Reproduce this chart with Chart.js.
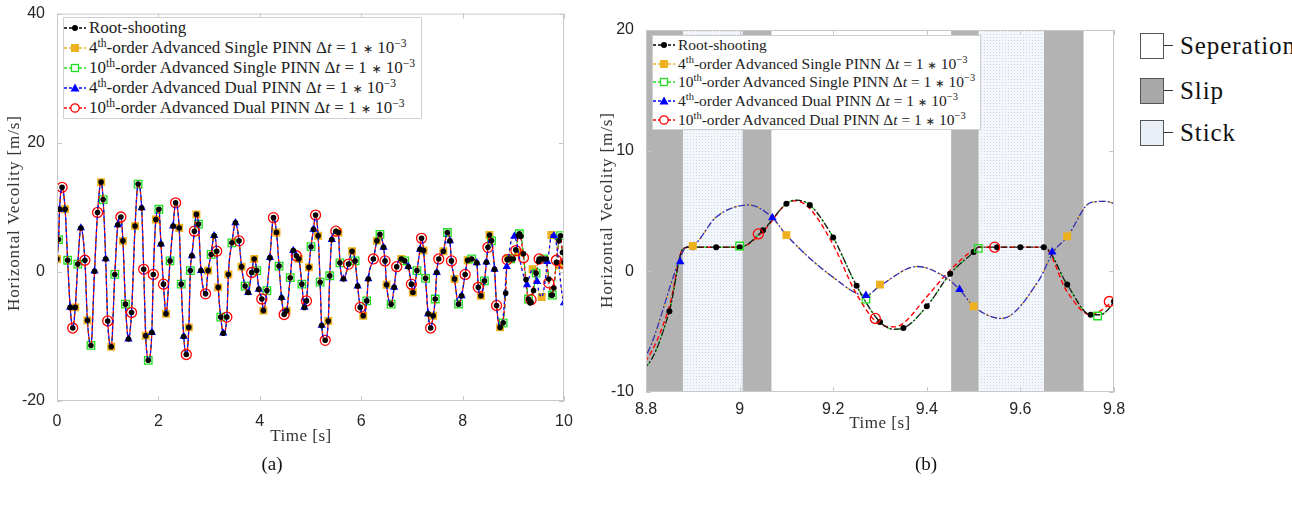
<!DOCTYPE html>
<html>
<head>
<meta charset="utf-8">
<script src="https://cdn.jsdelivr.net/npm/chart.js@4.4.1/dist/chart.umd.min.js"></script>
<style>
  body { margin: 0; width: 1292px; height: 505px; overflow: hidden; position: relative; background: #fff; font-family: "Liberation Serif", serif; color: #222; }
  .wrap { position: absolute; }
  .ytitle { position: absolute; white-space: nowrap; font-size: 17px; letter-spacing: 0.9px; transform: translate(-50%, -50%) rotate(-90deg); color: #333; }
  .xtitle { position: absolute; white-space: nowrap; font-size: 17px; letter-spacing: 0.5px; transform: translate(-50%, -50%); color: #333; }
  .cap { position: absolute; font-size: 19px; transform: translate(-50%, -50%); color: #111; }
  .lg { position: absolute; background: #fff; border: 1px solid #cfcfcf; box-sizing: border-box; }
  .row { display: flex; align-items: center; white-space: nowrap; color: #222; }
  .row svg { flex: none; }
  .row sup { font-size: 0.68em; line-height: 0; vertical-align: 0.55em; }
  .ast { font-family: "DejaVu Sans", sans-serif; font-size: 0.72em; }
  .cat { position: absolute; left: 1140px; width: 24px; height: 26px; box-sizing: border-box; border: 1.5px solid #555; }
  .tie { position: absolute; left: 1164px; width: 9px; height: 0; border-top: 1.5px solid #333; }
  .catl { position: absolute; left: 1180px; font-size: 25px; letter-spacing: 0.9px; white-space: nowrap; transform: translateY(-50%); color: #111; }
</style>
</head>
<body>
<div class="wrap" style="left:0;top:0;width:580px;height:430px"><canvas id="left"></canvas></div>
<div class="wrap" style="left:590px;top:0;width:540px;height:420px"><canvas id="right"></canvas></div>

<div class="ytitle" style="left:14px;top:213px">Horizontal Vecolity [m/s]</div>
<div class="xtitle" style="left:301px;top:436px">Time [s]</div>
<div class="ytitle" style="left:607px;top:210px">Horizontal Vecolity [m/s]</div>
<div class="xtitle" style="left:880px;top:423px">Time [s]</div>
<div class="cap" style="left:272px;top:464px">(a)</div>
<div class="cap" style="left:926px;top:464px">(b)</div>

<div class="lg" id="legLeft" style="left:63px;top:17px;width:359px;height:102px;font-size:17px"></div>
<div class="lg" id="legRight" style="left:652px;top:35px;width:329px;height:95px;font-size:15.5px"></div>

<div class="cat" style="top:33px;background:#fff"></div>
<div class="tie" style="top:45px"></div>
<div class="catl" style="top:46px">Seperation</div>
<div class="cat" style="top:78px;background:#a9a9a9"></div>
<div class="tie" style="top:90px"></div>
<div class="catl" style="top:91px">Slip</div>
<div class="cat" style="top:120px;background:#eaeff7"></div>
<div class="tie" style="top:132px"></div>
<div class="catl" style="top:133px">Stick</div>

<script>
'use strict';

// ---- data ----
// root-shooting horizontal velocity, t in s, v in m/s
const leftTime = [0, 0.03, 0.05, 0.1, 0.16, 0.21, 0.26, 0.31, 0.36, 0.41,
  0.47, 0.55, 0.6, 0.67, 0.74, 0.8, 0.87, 0.91, 0.96, 1.0,
  1.07, 1.14, 1.2, 1.26, 1.3, 1.35, 1.41, 1.47, 1.54, 1.6,
  1.67, 1.71, 1.75, 1.8, 1.87, 1.9, 1.95, 2.01, 2.05, 2.1,
  2.15, 2.23, 2.29, 2.34, 2.41, 2.45, 2.5, 2.55, 2.6, 2.63,
  2.66, 2.71, 2.75, 2.79, 2.84, 2.93, 2.98, 3.04, 3.1, 3.15,
  3.18, 3.23, 3.28, 3.35, 3.38, 3.45, 3.52, 3.59, 3.64, 3.71,
  3.77, 3.84, 3.89, 3.94, 3.98, 4.04, 4.07, 4.14, 4.2, 4.27,
  4.33, 4.38, 4.43, 4.48, 4.53, 4.6, 4.66, 4.72, 4.77, 4.83,
  4.88, 4.92, 4.97, 5.01, 5.06, 5.1, 5.15, 5.19, 5.22, 5.29,
  5.35, 5.38, 5.42, 5.5, 5.55, 5.58, 5.65, 5.75, 5.82, 5.88,
  5.93, 5.98, 6.04, 6.11, 6.14, 6.24, 6.31, 6.37, 6.44, 6.47,
  6.5, 6.59, 6.65, 6.7, 6.79, 6.86, 6.93, 6.99, 7.02, 7.1,
  7.16, 7.19, 7.23, 7.27, 7.32, 7.37, 7.42, 7.46, 7.49, 7.53,
  7.62, 7.7, 7.75, 7.78, 7.84, 7.92, 7.98, 8.05, 8.1, 8.18,
  8.28, 8.31, 8.36, 8.43, 8.47, 8.5, 8.53, 8.57, 8.63, 8.67,
  8.74, 8.8, 8.85, 8.88, 8.9, 8.95, 9.0, 9.05, 9.1, 9.12,
  9.15, 9.2, 9.25, 9.3, 9.33, 9.35, 9.4, 9.45, 9.5, 9.51,
  9.55, 9.6, 9.65, 9.7, 9.75, 9.77, 9.8, 9.85, 9.9, 9.93,
  9.97, 10];
const leftRoot = [2.0, 5.0, 9.7, 13.1, 9.7, 1.8, -5.5, -8.7, -5.5, 1.2,
  6.8, 1.8, -7.5, -11.4, 0.1, 9.2, 13.9, 11.2, 2.0, -7.6,
  -11.6, -0.4, 7.3, 8.5, 4.8, -5.0, -10.4, -6.3, 7.1, 13.6,
  9.9, 0.4, -9.9, -13.7, -9.4, -0.4, 8.1, 9.7, 4.3, -1.9,
  -6.5, 1.7, 7.1, 10.7, 6.8, -1.9, -10.0, -12.8, -8.6, 0.2,
  2.5, 6.3, 8.9, 7.4, 0.2, -3.4, 0.2, 2.7, 5.6, 3.2,
  -2.4, -7.0, -9.5, -7.0, -0.4, 4.5, 7.6, 4.8, 0.8, -2.2,
  -3.2, -0.1, 2.0, 0.2, -2.7, -4.2, -6.0, -2.9, 2.2, 8.4,
  6.1, 0.9, -4.0, -6.6, -6.0, -0.9, 3.3, 2.5, 2.0, -1.9,
  -5.5, -4.5, 0.7, 3.9, 6.6, 8.8, 5.6, -1.6, -8.3, -10.6,
  -7.6, -0.6, 5.0, 6.3, 6.1, 1.4, -1.1, 1.2, 3.2, 1.7,
  -2.2, -5.5, -6.8, -4.5, -1.1, 2.0, 4.8, 5.8, 3.8, 1.7,
  -2.0, -5.0, -2.4, 0.8, 2.0, 1.7, 0.8, -1.9, -3.2, 0.2,
  3.5, 5.2, 3.3, -1.0, -6.5, -8.7, -6.8, -4.2, -0.1, 2.0,
  3.2, 6.1, 4.8, 1.7, -1.1, -5.0, -3.7, -0.4, 1.8, 2.0,
  1.4, -2.4, -3.7, -1.4, 1.5, 3.8, 5.7, 4.8, 0.4, -5.2,
  -8.6, -7.9, -3.3, 1.9, 2.0, 2.0, 2.0, 3.4, 5.6, 5.9,
  5.5, 2.8, -1.2, -4.2, -4.8, -4.7, -2.9, -0.2, 1.6, 2.0,
  2.0, 2.0, 2.0, -1.1, -3.6, -3.6, -2.5, 1.5, 4.8, 5.6,
  3.0, 1.5];

// 4th-order PINNs (single and dual) leave the root-shooting curve after 8.8 s
const tail4Time = [8.8, 8.87, 8.885, 8.9, 8.95, 9.02, 9.07, 9.1, 9.2, 9.27,
  9.3, 9.38, 9.44, 9.47, 9.5, 9.56, 9.64, 9.67, 9.7, 9.75,
  9.78, 9.8, 9.85, 9.9, 9.95, 10];
const tail4Vel = [-7.0, 0.8, 2.0, 2.15, 4.5, 5.5, 4.45, 3.0, -0.5, -2.0,
  -1.2, 0.4, -0.5, -1.5, -2.9, -3.9, -0.7, 1.6, 2.85, 5.7,
  5.8, 5.6, 4.3, 1.0, -2.8, -4.8];

// 10th-order dual PINN after 8.8 s (slightly ahead of root-shooting)
const tailDual10Time = [8.8, 8.85, 8.88, 8.9, 8.95, 9.0, 9.05, 9.1, 9.12, 9.15,
  9.2, 9.25, 9.3, 9.33, 9.35, 9.4, 9.45, 9.5, 9.51, 9.55,
  9.6, 9.65, 9.7, 9.75, 9.77, 9.8, 9.85, 9.9, 9.93, 9.97, 10];
const tailDual10Vel = [-7.4, -2.9, 1.9, 2.0, 2.0, 2.0, 3.3, 5.6, 5.85, 5.2,
  2.2, -1.9, -4.4, -4.6, -4.3, -2.1, 0.1, 1.8, 2.0, 2.0,
  2.0, 2.0, -1.7, -3.6, -3.3, -2.2, 1.8, 4.9, 5.5, 2.8, 1.3];

// markers of the zoomed panel (b)
const single4MarkTime = [8.9, 9.1, 9.3, 9.5, 9.7];
const single4MarkVel = [2.1, 3.0, -1.1, -2.9, 2.9];
const single10MarkTime = [9.0, 9.27, 9.51, 9.765];
const single10MarkVel = [2.1, -2.3, 1.9, -3.7];
const dual4MarkTime = [8.873, 9.07, 9.27, 9.47, 9.668];
const dual4MarkVel = [0.8, 4.45, -2.0, -1.5, 1.6];
const dual10MarkTime = [9.04, 9.29, 9.545, 9.79];
const dual10MarkVel = [3.1, -3.9, 2.0, -2.5];

// contact phases in panel (b)
const slipStart = [8.8, 9.006, 9.452, 9.65];
const slipEnd = [8.879, 9.068, 9.511, 9.735];
const stickStart = [8.879, 9.511];
const stickEnd = [9.006, 9.65];

const leftXTicks = [0, 2, 4, 6, 8, 10];
const leftYTicks = [-20, 0, 20, 40];
const rightXTicks = [8.8, 9, 9.2, 9.4, 9.6, 9.8];
const rightYTicks = [-10, 0, 10, 20];

// ---- styles ----
const BLACK = '#000000';
const ORANGE = '#EDB120';
const GREEN = '#22dd22';
const BLUE = '#0000ff';
const RED = '#ff0000';

const mk = (ts, vs) => ts.map((t, i) => ({ x: t, y: vs[i] }));
const rootPts = mk(leftTime, leftRoot);
const early = rootPts.filter(p => p.x < 8.8);
const fourthPts = early.concat(mk(tail4Time, tail4Vel));
const dual10Pts = early.concat(mk(tailDual10Time, tailDual10Vel));

// legends (html, so superscripts and italics stay real text)
function sample(color, dash, marker) {
  let m = '';
  if (marker === 'dot') m = `<circle cx="11" cy="7" r="3" fill="${color}"/>`;
  if (marker === 'sq') m = `<rect x="7" y="3" width="8" height="8" fill="${color}"/>`;
  if (marker === 'osq') m = `<rect x="7.5" y="3.5" width="7" height="7" fill="#fff" stroke="${color}" stroke-width="1.3"/>`;
  if (marker === 'tri') m = `<polygon points="11,2.5 15.5,10.5 6.5,10.5" fill="${color}"/>`;
  if (marker === 'oc') m = `<circle cx="11" cy="7" r="4.2" fill="#fff" stroke="${color}" stroke-width="1.3"/>`;
  return `<svg width="22" height="14"><line x1="0" y1="7" x2="22" y2="7" stroke="${color}" stroke-width="1.3" stroke-dasharray="${dash}"/>${m}</svg>`;
}
const dt = 'Δ<i>t</i> = 1 <span class="ast">∗</span> 10<sup>−3</sup>';
const legendRows = [
  [BLACK, '3,2', 'dot', 'Root-shooting'],
  [ORANGE, '3,2', 'sq', `4<sup>th</sup>-order Advanced Single PINN ${dt}`],
  [GREEN, '3,2', 'osq', `10<sup>th</sup>-order Advanced Single PINN ${dt}`],
  [BLUE, '3,2', 'tri', `4<sup>th</sup>-order Advanced Dual PINN ${dt}`],
  [RED, '3,2', 'oc', `10<sup>th</sup>-order Advanced Dual PINN ${dt}`]
];
function fillLegend(id, rowH) {
  document.getElementById(id).innerHTML = legendRows.map(r =>
    `<div class="row" style="height:${rowH}px">${sample(r[0], r[1], r[2])}<span style="margin-left:3px">${r[3]}</span></div>`
  ).join('');
}
fillLegend('legLeft', 20);
fillLegend('legRight', 18.6);

// ---- plugins ----
const stickPattern = (() => {
  const c = document.createElement('canvas');
  c.width = 3; c.height = 3;
  const g = c.getContext('2d');
  g.fillStyle = '#f3f6fb';
  g.fillRect(0, 0, 3, 3);
  g.fillStyle = '#cdd6e6';
  g.fillRect(1, 1, 1, 1);
  return g.createPattern(c, 'repeat');
})();

const phases = {
  id: 'phases',
  beforeDatasetsDraw(chart) {
    if (chart.canvas.id !== 'right') return;
    const { ctx, chartArea: a, scales: { x } } = chart;
    ctx.save();
    ctx.fillStyle = '#b3b3b3';
    slipStart.forEach((s, i) => {
      const x0 = x.getPixelForValue(s), x1 = x.getPixelForValue(slipEnd[i]);
      ctx.fillRect(x0, a.top, x1 - x0, a.bottom - a.top);
    });
    ctx.fillStyle = stickPattern;
    stickStart.forEach((s, i) => {
      const x0 = x.getPixelForValue(s), x1 = x.getPixelForValue(stickEnd[i]);
      ctx.fillRect(x0, a.top, x1 - x0, a.bottom - a.top);
    });
    ctx.restore();
  }
};

const frame = {
  id: 'frame',
  afterDatasetsDraw(chart) {
    const { ctx, chartArea: a, scales: { x, y } } = chart;
    ctx.save();
    ctx.strokeStyle = '#c8c8c8';
    ctx.lineWidth = 1;
    ctx.strokeRect(a.left + 0.5, a.top + 0.5, a.right - a.left - 1, a.bottom - a.top - 1);
    ctx.beginPath();
    x.ticks.forEach(t => {
      const p = Math.round(x.getPixelForValue(t.value)) + 0.5;
      ctx.moveTo(p, a.bottom); ctx.lineTo(p, a.bottom - 5);
      ctx.moveTo(p, a.top); ctx.lineTo(p, a.top + 5);
    });
    y.ticks.forEach(t => {
      const p = Math.round(y.getPixelForValue(t.value)) + 0.5;
      ctx.moveTo(a.left, p); ctx.lineTo(a.left + 5, p);
      ctx.moveTo(a.right, p); ctx.lineTo(a.right - 5, p);
    });
    ctx.stroke();
    ctx.restore();
  }
};

const tickFont = { family: '"Liberation Sans", Arial, sans-serif', size: 16 };

function axes(xr, yr, xTicks, yTicks, yWidth, xHeight, xPad) {
  return {
    x: {
      type: 'linear', min: xr[0], max: xr[1],
      afterBuildTicks: s => { s.ticks = xTicks.map(v => ({ value: v })); },
      afterFit: s => { s.height = xHeight; },
      grid: { display: false }, border: { display: false },
      ticks: { font: tickFont, color: '#262626', padding: xPad, maxRotation: 0, callback: v => String(+v.toFixed(2)) }
    },
    y: {
      type: 'linear', min: yr[0], max: yr[1],
      afterBuildTicks: s => { s.ticks = yTicks.map(v => ({ value: v })); },
      afterFit: s => { s.width = yWidth; },
      grid: { display: false }, border: { display: false },
      ticks: { font: tickFont, color: '#262626', padding: 4 }
    }
  };
}

function line(data, color, dash, width, extra) {
  return Object.assign({
    data: data, borderColor: color, borderWidth: width, borderDash: dash,
    cubicInterpolationMode: 'monotone', pointRadius: 0, fill: false
  }, extra || {});
}
function marks(ts, vs, style, color, r, filled) {
  return {
    data: mk(ts, vs), showLine: false, pointStyle: style, pointRadius: r,
    pointBackgroundColor: filled ? color : 'rgba(0,0,0,0)',
    pointBorderColor: color, pointBorderWidth: filled ? 0 : 1.3
  };
}

// ---- (a) full record ----
const every = (k, r) => c => (c.dataIndex % 4 === k ? r : 0);
new Chart(document.getElementById('left'), {
  type: 'line',
  data: {
    datasets: [
      // black dots on top, black line at the bottom
      { data: rootPts, showLine: false, pointRadius: 2.8, pointBackgroundColor: BLACK, pointBorderWidth: 0 },
      line(fourthPts, BLUE, [3, 3], 1.3, { pointStyle: 'triangle', pointRadius: every(2, 4.8), pointBackgroundColor: BLUE, pointBorderWidth: 0 }),
      line(dual10Pts, RED, [3, 3], 1.3, { borderDashOffset: 3, pointStyle: 'circle', pointRadius: every(3, 5), pointBackgroundColor: 'rgba(0,0,0,0)', pointBorderColor: RED, pointBorderWidth: 1.3 }),
      line(rootPts, GREEN, [4, 4], 1, { pointStyle: 'rect', pointRadius: every(1, 5.3), pointBackgroundColor: 'rgba(0,0,0,0)', pointBorderColor: GREEN, pointBorderWidth: 1.3 }),
      line(fourthPts, ORANGE, [4, 4], 1, { pointStyle: 'rect', pointRadius: every(0, 5.6), pointBackgroundColor: ORANGE, pointBorderWidth: 0 }),
      line(rootPts, '#333333', [5, 3], 1)
    ]
  },
  options: {
    responsive: true, maintainAspectRatio: false, animation: false,
    layout: { padding: { top: 12, right: 16, left: 0, bottom: 0 } },
    plugins: { legend: { display: false }, tooltip: { enabled: false } },
    scales: axes([0, 10], [-20, 40], leftXTicks, leftYTicks, 57, 29, 3)
  },
  plugins: [frame]
});

// ---- (b) zoom 8.8 - 9.8 s with contact phases ----
const onGrid = c => {
  const t = c.raw.x;
  return (t > 8.82 && Math.abs(t * 20 - Math.round(t * 20)) < 1e-6) ? 3 : 0;
};
new Chart(document.getElementById('right'), {
  type: 'line',
  data: {
    datasets: [
      marks(dual4MarkTime, dual4MarkVel, 'triangle', BLUE, 5, true),
      marks(single4MarkTime, single4MarkVel, 'rect', ORANGE, 5.6, true),
      marks(dual10MarkTime, dual10MarkVel, 'circle', RED, 5, false),
      marks(single10MarkTime, single10MarkVel, 'rect', GREEN, 5.3, false),
      line(rootPts, '#1a1a1a', [7, 2, 2, 2], 1.3, { pointRadius: onGrid, pointBackgroundColor: BLACK, pointBorderWidth: 0 }),
      line(fourthPts, '#3030c0', [7, 2, 2, 2], 1.3),
      line(dual10Pts, RED, [5, 3], 1.4),
      line(fourthPts, ORANGE, [4, 4], 1.3),
      line(rootPts, GREEN, [4, 4], 1.2)
    ]
  },
  options: {
    responsive: true, maintainAspectRatio: false, animation: false,
    layout: { padding: { top: 30, right: 16, left: 0, bottom: 0 } },
    plugins: { legend: { display: false }, tooltip: { enabled: false } },
    scales: axes([8.8, 9.8], [-10, 20], rightXTicks, rightYTicks, 56, 28, 0)
  },
  plugins: [phases, frame]
});
</script>
</body>
</html>
